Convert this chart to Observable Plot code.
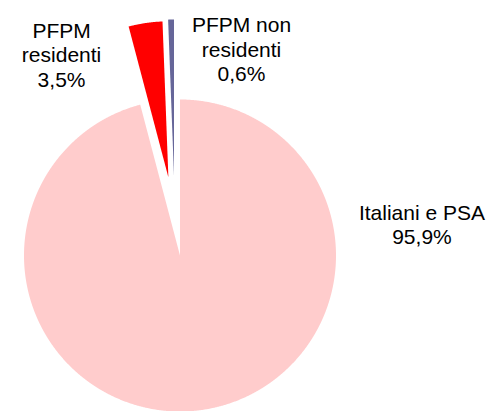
<!DOCTYPE html>
<html>
<head>
<meta charset="utf-8">
<script src="https://cdn.jsdelivr.net/npm/d3@7"></script>
<script src="https://cdn.jsdelivr.net/npm/@observablehq/plot@0.6"></script>
<style>
  html, body { margin: 0; padding: 0; background: #fff; }
  #chart svg { display: block; }
</style>
</head>
<body>
<div id="chart"></div>
<script>
// ---- data ----
const categories = ["Italiani e PSA", "PFPM residenti", "PFPM non residenti"];
const values = [95.9, 3.5, 0.6];
const labelTexts = ["Italiani e PSA\n95,9%", "PFPM\nresidenti\n3,5%", "PFPM non\nresidenti\n0,6%"];
const colors = ["#FFCCCC", "#FF0000", "#666699"];

// ---- layout ----
const W = 488, H = 411;
const cx = 179.5, cy = 255, R = 156;           // pie centre and radius (px)
const explode = [0, 79, 80];                     // explosion distance (px) along slice mid-angle
const nudge = [[0, 0], [0, 0], [-4.5, 0]];       // extra px shift
const labelPolar = [[82.6, 1.564], [-30.5, 1.496], [16.6, 1.381]]; // label angle (deg) & radius (in R)

const total = d3.sum(values);
let cum = 0;
const slices = values.map((v, i) => {
  const a0 = cum / total * 2 * Math.PI;
  cum += v;
  const a1 = cum / total * 2 * Math.PI;
  const mid = (a0 + a1) / 2;
  const ox = (Math.sin(mid) * explode[i] + nudge[i][0]) / R;
  const oy = (Math.cos(mid) * explode[i] - nudge[i][1]) / R;
  const pts = [{x: ox, y: oy}];
  const n = Math.max(4, Math.ceil((a1 - a0) / (0.25 * Math.PI / 180)));
  for (let k = 0; k <= n; k++) {
    const a = a0 + (a1 - a0) * k / n;
    pts.push({x: ox + Math.sin(a), y: oy + Math.cos(a)});
  }
  pts.push({x: ox, y: oy});
  return {category: categories[i], color: colors[i], pts};
});

const labelData = labelTexts.map((t, i) => {
  const a = labelPolar[i][0] * Math.PI / 180;
  return {text: t, x: Math.sin(a) * labelPolar[i][1], y: Math.cos(a) * labelPolar[i][1]};
});

const chart = Plot.plot({
  width: W,
  height: H,
  margin: 0,
  style: {fontFamily: "'Liberation Sans', Arial, sans-serif", background: "#fff"},
  x: {type: "linear", domain: [-cx / R, (W - cx) / R], range: [0, W], axis: null},
  y: {type: "linear", domain: [-(H - cy) / R, cy / R], range: [H, 0], axis: null},
  marks: [
    ...slices.map(s => Plot.line(s.pts, {x: "x", y: "y", fill: s.color, stroke: "none", curve: "linear"})),
    Plot.text(labelData, {
      x: "x", y: "y", text: "text",
      fontSize: 21, lineHeight: 1.17,
      textAnchor: "middle", fill: "#000"
    })
  ]
});
document.getElementById("chart").appendChild(chart);
</script>
</body>
</html>
